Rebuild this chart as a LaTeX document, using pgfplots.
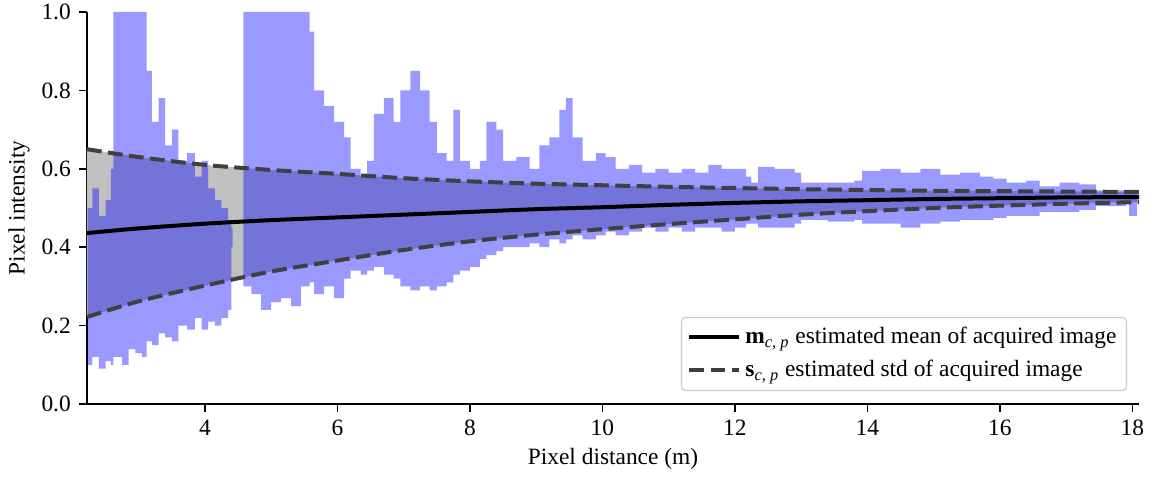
\documentclass[border=0pt]{standalone}
\usepackage{fontspec}
\setmainfont{Liberation Serif}
\usepackage{pgfplots}
\pgfplotsset{compat=1.18}
\usepgfplotslibrary{fillbetween}
\usepackage{pgfplotstable}
\definecolor{cloud}{HTML}{0000FF}
\definecolor{stdgray}{HTML}{C0C0C0}
\definecolor{dashgray}{HTML}{404040}
\definecolor{legedge}{HTML}{CCCCCC}

% blue cloud envelope: x, upper, lower
\pgfplotstableread{
x hi lo
2.23 0.50 0.10
2.30 0.55 0.12
2.40 0.48 0.09
2.50 0.52 0.11
2.58 0.60 0.10
2.62 1.00 0.12
2.75 1.00 0.10
2.85 1.00 0.14
2.95 1.00 0.13
3.05 1.00 0.12
3.12 0.85 0.16
3.20 0.72 0.15
3.30 0.78 0.18
3.40 0.66 0.17
3.50 0.70 0.16
3.60 0.62 0.20
3.73 0.64 0.19
3.85 0.58 0.22
3.95 0.62 0.19
4.05 0.55 0.21
4.15 0.52 0.20
4.25 0.50 0.22
4.35 0.47 0.24
4.40 0.45 0.40
4.42 0.44 0.44
4.56 0.44 0.44
4.58 1.00 0.30
4.70 1.00 0.28
4.85 1.00 0.24
5.00 1.00 0.26
5.15 1.00 0.27
5.30 1.00 0.25
5.45 1.00 0.30
5.58 0.95 0.31
5.65 0.80 0.28
5.80 0.76 0.30
5.95 0.72 0.27
6.10 0.68 0.32
6.20 0.60 0.34
6.35 0.58 0.33
6.45 0.62 0.34
6.55 0.74 0.35
6.70 0.78 0.33
6.85 0.72 0.32
6.95 0.80 0.30
7.10 0.85 0.29
7.25 0.80 0.30
7.39 0.72 0.29
7.50 0.64 0.30
7.65 0.62 0.31
7.75 0.75 0.33
7.85 0.62 0.34
8.00 0.60 0.35
8.15 0.62 0.37
8.25 0.72 0.38
8.40 0.70 0.39
8.50 0.62 0.40
8.70 0.63 0.40
8.90 0.60 0.41
9.05 0.66 0.40
9.20 0.68 0.42
9.35 0.75 0.41
9.45 0.78 0.42
9.55 0.68 0.43
9.70 0.62 0.42
9.90 0.64 0.43
10.05 0.63 0.44
10.20 0.60 0.43
10.40 0.61 0.44
10.60 0.59 0.45
10.80 0.60 0.44
11.00 0.59 0.45
11.20 0.60 0.44
11.40 0.59 0.45
11.60 0.61 0.45
11.80 0.60 0.44
12.00 0.60 0.45
12.17 0.58 0.46
12.25 0.565 0.46
12.35 0.605 0.45
12.60 0.60 0.45
12.90 0.59 0.46
13.00 0.565 0.47
13.40 0.565 0.465
13.80 0.57 0.47
13.92 0.595 0.46
14.20 0.60 0.46
14.50 0.59 0.45
14.80 0.60 0.46
15.10 0.585 0.465
15.40 0.59 0.47
15.70 0.58 0.47
15.90 0.575 0.475
16.10 0.565 0.48
16.40 0.57 0.48
16.60 0.555 0.49
16.90 0.565 0.49
17.20 0.56 0.495
17.45 0.545 0.505
17.90 0.545 0.51
17.95 0.545 0.48
18.07 0.545 0.48
}\cloudtab

% estimated mean and mean +/- std
\pgfplotstableread{
x mean up low
2.22 0.436 0.650 0.222
3.0 0.448 0.630 0.262
4.0 0.460 0.610 0.302
5.0 0.469 0.597 0.338
6.0 0.476 0.587 0.366
7.0 0.483 0.576 0.393
8.0 0.490 0.568 0.415
9.0 0.497 0.562 0.432
10.0 0.502 0.558 0.446
11.0 0.508 0.554 0.459
12.0 0.513 0.551 0.471
13.0 0.517 0.548 0.483
14.0 0.520 0.546 0.492
15.0 0.523 0.544 0.500
16.0 0.525 0.543 0.506
17.0 0.527 0.542 0.511
18.1 0.528 0.541 0.515
}\stattab

\begin{document}
\fontsize{11.7}{14}\selectfont
\begin{tikzpicture}
\begin{axis}[
  at={(0,0)}, anchor=south west,
  scale only axis, width=526pt, height=196pt,
  xmin=2.22, xmax=18.1, ymin=0, ymax=1,
  axis lines*=left,
  axis line style={line width=0.8pt},
  xtick={4,6,...,18}, ytick={0,0.2,...,1.0},
  yticklabel style={/pgf/number format/.cd, fixed, fixed zerofill, precision=1},
  /pgf/number format/assume math mode=true,
  tick align=outside, tick style={black, line width=0.8pt},
  major tick length=4pt,
  tick label style={font=\fontsize{11.7}{14}\selectfont},
  label style={font=\fontsize{11.7}{14}\selectfont},
  xlabel={Pixel distance (m)}, ylabel={Pixel intensity},
  xlabel style={yshift=2pt}, ylabel style={yshift=-2pt},
  clip=true,
  legend style={at={(0.9886,0.033)}, anchor=south east,
    draw=legedge, line width=0.6pt, rounded corners=2pt,
    fill=white, fill opacity=0.8, text opacity=1,
    font=\fontsize{11.7}{14}\selectfont,
    row sep=2.5pt, inner sep=3pt},
  legend cell align=left,
  legend image code/.code={\draw[#1] (0pt,0pt) -- (25pt,0pt);},
]
% std band
\addplot[draw=none, name path=up, forget plot] table[x=x, y=up] {\stattab};
\addplot[draw=none, name path=low, forget plot] table[x=x, y=low] {\stattab};
\addplot[stdgray, forget plot] fill between[of=up and low];
% measured pixels
\addplot[draw=none, const plot mark left, name path=chi, forget plot] table[x=x, y=hi] {\cloudtab};
\addplot[draw=none, const plot mark left, name path=clo, forget plot] table[x=x, y=lo] {\cloudtab};
\addplot[cloud, fill opacity=0.4, forget plot] fill between[of=chi and clo];
% curves
\addplot[black, line width=2pt, smooth, no marks] table[x=x, y=mean] {\stattab};
\addlegendentry{\textbf{m}\textsubscript{\textit{c, p}} estimated mean of acquired image}
\addplot[dashgray, line width=2pt, dash pattern=on 7.4pt off 3.2pt, smooth, no marks] table[x=x, y=up] {\stattab};
\addlegendentry{\textbf{s}\textsubscript{\textit{c, p}} estimated std of acquired image}
\addplot[dashgray, line width=2pt, dash pattern=on 7.4pt off 3.2pt, smooth, no marks, forget plot] table[x=x, y=low] {\stattab};
\end{axis}
\pgfresetboundingbox
\path[use as bounding box] (-43.5pt,-36.5pt) rectangle (534pt,202pt);
\end{tikzpicture}
\end{document}
